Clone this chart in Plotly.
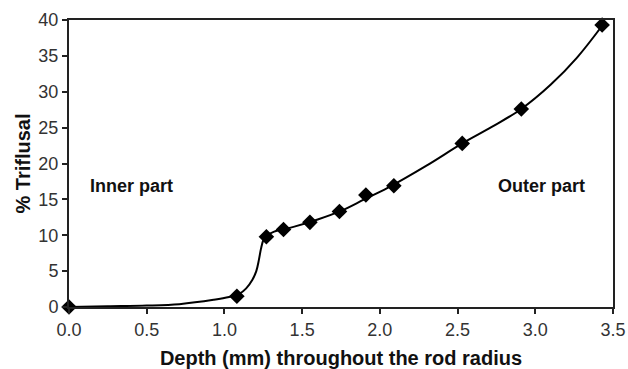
import plotly.graph_objects as go

# measured points
depth = [0.0, 1.08, 1.27, 1.38, 1.55, 1.74, 1.91, 2.09, 2.53, 2.91, 3.43]
triflusal = [0.0, 1.5, 9.8, 10.8, 11.8, 13.3, 15.6, 16.9, 22.8, 27.6, 39.3]

# fitted curve
curve_x = [0.0, 0.25, 0.5, 0.71, 0.93, 1.03, 1.1, 1.14, 1.18, 1.205, 1.222, 1.235, 1.25, 1.27, 1.32,
           1.45, 1.6, 1.75, 1.9, 2.05, 2.3, 2.53, 2.72, 2.91, 3.1, 3.27, 3.43]
curve_y = [0.0, 0.1, 0.2, 0.4, 1.0, 1.4, 1.9, 2.6, 3.8, 5.0, 6.6, 8.1, 9.3, 9.9, 10.5,
           11.2, 12.2, 13.4, 15.0, 16.6, 19.7, 22.8, 25.1, 27.6, 31.0, 34.8, 39.2]

fig = go.Figure()
fig.add_trace(go.Scatter(x=curve_x, y=curve_y, mode="lines",
                         line=dict(color="black", width=2, shape="spline", smoothing=1.0),
                         hoverinfo="skip", showlegend=False))
fig.add_trace(go.Scatter(x=depth, y=triflusal, mode="markers",
                         marker=dict(symbol="diamond", size=12, color="black"),
                         cliponaxis=False, showlegend=False))

font = "Liberation Sans, Arial, sans-serif"
axcol = "#222"
fig.update_layout(
    width=628, height=369,
    margin=dict(l=69, r=15, t=20, b=62),
    paper_bgcolor="white", plot_bgcolor="white",
    font=dict(family=font, color="#333", size=18),
    xaxis=dict(range=[0, 3.5], tickvals=[0, 0.5, 1, 1.5, 2, 2.5, 3, 3.5],
               ticktext=["0.0", "0.5", "1.0", "1.5", "2.0", "2.5", "3.0", "3.5"],
               automargin=False,
               showgrid=False, zeroline=False, showline=True, linecolor=axcol, linewidth=2,
               mirror=True, ticks="outside", ticklen=5, tickwidth=2, tickcolor=axcol,
               title=dict(text="<b>Depth (mm) throughout the rod radius</b>",
                          font=dict(size=20, color="#111"), standoff=14)),
    yaxis=dict(range=[0, 40], tickvals=[0, 5, 10, 15, 20, 25, 30, 35, 40],
               automargin=False,
               showgrid=False, zeroline=False, showline=True, linecolor=axcol, linewidth=2,
               mirror=True, ticks="outside", ticklen=5, tickwidth=2, tickcolor=axcol,
               title=dict(text="<b>% Triflusal</b>", font=dict(size=20, color="#111"), standoff=2)),
    annotations=[
        dict(x=0.12, y=16.9, xref="x", yref="y", text="<b>Inner part</b>", showarrow=False,
             xanchor="left", yanchor="middle", font=dict(size=18, color="#111")),
        dict(x=2.75, y=16.9, xref="x", yref="y", text="<b>Outer part</b>", showarrow=False,
             xanchor="left", yanchor="middle", font=dict(size=18, color="#111")),
    ],
)
fig.write_html("out.html")
